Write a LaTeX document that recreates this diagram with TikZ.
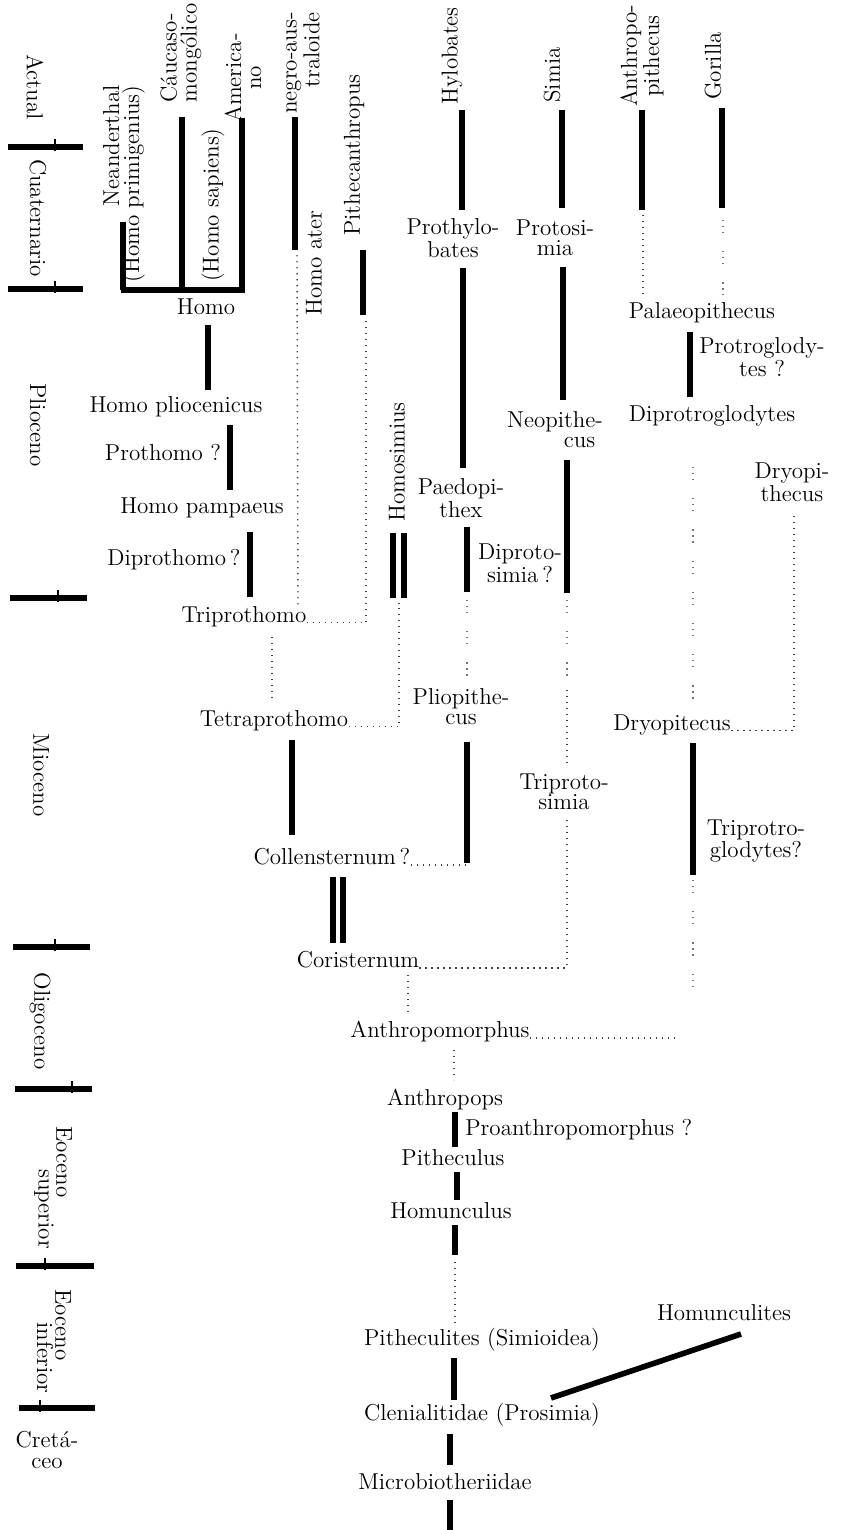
\documentclass[tikz,border=0pt]{standalone}
\usepackage{tikz}

\begin{document}
\begin{tikzpicture}[x=0.5pt, y=-0.5pt,
    every node/.style={inner sep=0pt, font=\fontsize{11.5}{10}\selectfont},
    lbl/.style={align=center},
    vlbl/.style={rotate=90, align=center},
    per/.style={rotate=-90, align=center},
    bar/.style={line width=2.8pt},
    tick/.style={line width=0.6pt},
    dots/.style={line width=0.7pt, black!75, dash pattern=on 0.7pt off 2.3pt},
    faint/.style={line width=0.6pt, black!55, dash pattern=on 0.6pt off 2.4pt on 0.6pt off 2.4pt on 0.6pt off 9pt}]
  % escala: 1 unidad = 1 px de la lamina (840 x 1530)
  \useasboundingbox (0,0) rectangle (840,1530);

  % periodos
  \node[per] (actual) at (35,87) {Actual};
  \node[per] (cuat) at (38,218) {Cuaternario};
  \node[per] (plio) at (38,425) {Plioceno};
  \node[per] (mio) at (41,775) {Mioceno};
  \node[per] (oligo) at (40,1021) {Oligoceno};
  \node[per] (eosup) at (64,1162) {Eoceno};
  \node[per] (eosupb) at (44,1209) {superior};
  \node[per] (eoinf) at (63,1325) {Eoceno};
  \node[per] (eoinfb) at (45,1358) {inferior};
  \node[lbl] (cret) at (47,1450) {Cretá-\\ceo};
  \foreach \y/\xa/\xb/\xt in {147/8/83/55, 289/8/83/55, 598/10/87/58, 947/13/90/55,
      1089/15/92/72, 1266/16/94/45, 1408/19/95/40} {
    \draw[bar] (\xa,\y) -- (\xb,\y);
    \draw[tick] (\xt,\y-8) -- (\xt,\y+4);
  }

  % rama humana
  \node[vlbl, align=right] (neander) at (124,184) {Neanderthal\\(Homo primigenius)};
  \node[vlbl, align=left] (caucaso) at (181,53) {Cáucaso-\\mongólico};
  \node[vlbl] (sapiens) at (213,205) {(Homo sapiens)};
  \node[vlbl] (americano) at (243,78) {America-\\no};
  \node[vlbl, align=right] (negro) at (303,63) {negro-aus-\\traloide};
  \node[vlbl] (ater) at (314,263) {Homo ater};
  \node[vlbl] (pithecan) at (354,155) {Pithecanthropus};
  \node[lbl] (homo) at (206,307) {Homo};
  \node[lbl] (hplio) at (176,407) {Homo pliocenicus};
  \node[lbl] (prothomo) at (163,453) {Prothomo ?};
  \node[lbl] (hpamp) at (202,508) {Homo pampaeus};
  \node[lbl] (diprothomo) at (174,560) {Diprothomo\,?};
  \node[lbl] (triprothomo) at (244,617) {Triprothomo};
  \node[lbl] (tetraprothomo) at (274,721) {Tetraprothomo};
  \node[vlbl] (homosimius) at (397,462) {Homosimius};
  \node[lbl] (collen) at (332,857) {Collensternum\,?};
  \node[lbl] (cori) at (358,960) {Coristernum};
  \node[lbl] (anthmorph) at (440,1032) {Anthropomorphus};
  \node[lbl] (anthropops) at (445,1100) {Anthropops};
  \node[lbl, anchor=west] (proanth) at (465,1130) {Proanthropomorphus ?};
  \node[lbl] (pitheculus) at (453,1158) {Pitheculus};
  \node[lbl] (homunculus) at (451,1211) {Homunculus};
  \node[lbl] (pitheculites) at (482,1340) {Pitheculites (Simioidea)};
  \node[lbl] (clenial) at (482,1415) {Clenialitidae (Prosimia)};
  \node[lbl] (homunculites) at (724,1313) {Homunculites};
  \node[lbl] (microbio) at (445,1482) {Microbiotheriidae};

  % antropoides
  \node[vlbl] (hylobates) at (452,56) {Hylobates};
  \node[vlbl] (simia) at (552,75) {Simia};
  \node[vlbl] (anthpith) at (642,56) {Anthropo-\\pithecus};
  \node[vlbl] (gorilla) at (713,66) {Gorilla};
  \node[lbl] (prothylo) at (453,238) {Prothylo-\\bates};
  \node[lbl] (protosimia) at (555,238) {Protosi-\\mia};
  \node[lbl] (palaeo) at (702,313) {Palaeopithecus};
  \node[lbl] (protroglo) at (762,357) {Protroglody-\\tes ?};
  \node[lbl] (diprotroglo) at (712,416) {Diprotroglodytes};
  \node[lbl, align=right] (neopith) at (555,430) {Neopithe-\\cus\phantom{-}};
  \node[lbl] (dryopith) at (792,482) {Dryopi-\\thecus};
  \node[lbl] (paedopithex) at (461,498) {Paedopi-\\thex};
  \node[lbl] (diprotosimia) at (520,563) {Diproto-\\simia\,?};
  \node[lbl] (pliopith) at (461,707) {Pliopithe-\\cus};
  \node[lbl] (dryopitecus) at (672,725) {Dryopitecus};
  \node[lbl] (triprotosimia) at (564,792) {Triproto-\\simia};
  \node[lbl] (triprotroglo) at (756,841) {Triprotro-\\glodytes?};

  % lineas continuas
  \draw[bar] (123,222) -- (123,290);
  \draw[bar] (182,117) -- (182,290);
  \draw[bar] (242,118) -- (242,290);
  \draw[bar] (121,290) -- (245,290);
  \draw[bar] (295,117) -- (295,250);
  \draw[bar] (363,250) -- (363,315);
  \draw[bar] (208,325) -- (208,390);
  \draw[bar] (230,425) -- (230,490);
  \draw[bar] (250,532) -- (250,597);
  \draw[bar] (393,533) -- (393,598);
  \draw[bar] (404,533) -- (404,598);
  \draw[bar] (292,740) -- (292,835);
  \draw[bar] (333,877) -- (333,943);
  \draw[bar] (343,877) -- (343,943);
  \draw[bar] (455,1112) -- (455,1147);
  \draw[bar] (457,1172) -- (457,1200);
  \draw[bar] (455,1225) -- (455,1255);
  \draw[bar] (454,1358) -- (454,1400);
  \draw[bar] (450,1434) -- (450,1465);
  \draw[bar] (450,1500) -- (450,1530);
  \draw[bar] (551,1398) -- (741,1334);
  \draw[bar] (462,110) -- (462,210);
  \draw[bar] (463,268) -- (463,468);
  \draw[bar] (562,110) -- (562,208);
  \draw[bar] (563,267) -- (563,400);
  \draw[bar] (642,110) -- (642,210);
  \draw[bar] (722,108) -- (722,208);
  \draw[bar] (690,332) -- (690,397);
  \draw[bar] (567,460) -- (567,593);
  \draw[bar] (467,527) -- (467,592);
  \draw[bar] (467,742) -- (467,863);
  \draw[bar] (693,743) -- (693,875);

  % lineas de puntos
  \draw[dots] (297,255) -- (298,607);
  \draw[dots] (triprothomo.base east) -| (366,318);
  \draw[dots] (272,637) -- (272,698);
  \draw[dots] (tetraprothomo.base east) -| (399,603);
  \draw[dots] (collen.base east) -- (467,860 |- collen.base east);
  \draw[dots] (cori.base east) -| (567,820);
  \draw[faint] (567,600) -- (567,690);
  \draw[dots] (567,690) -- (567,763);
  \draw[faint] (467,600) -- (467,685);
  \draw[dots] (643,215) -- (643,295);
  \draw[faint] (723,220) -- (723,295);
  \draw[faint] (693,467) -- (693,708);
  \draw[dots] (dryopitecus.base east) -| (794,512);
  \draw[faint] (693,880) -- (693,990);
  \draw[dots] (408,975) -- (408,1013);
  \draw[dots] (anthmorph.base east) -- (677,1034 |- anthmorph.base east);
  \draw[dots] (454,1050) -- (454,1080);
  \draw[dots] (455,1262) -- (455,1323);
\end{tikzpicture}
\end{document}
